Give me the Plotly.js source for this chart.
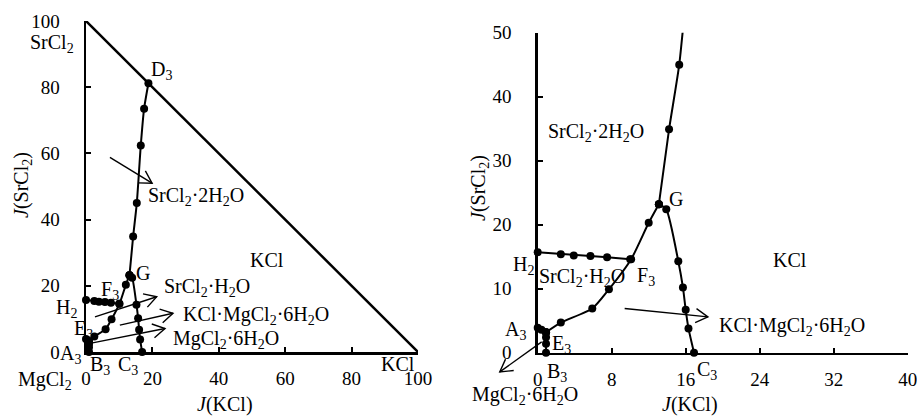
<!DOCTYPE html>
<html>
<head>
<meta charset="utf-8">
<script src="https://cdn.plot.ly/plotly-3.0.1.min.js"></script>
<style>html,body{margin:0;padding:0;background:#fff;}#chart{width:917px;height:417px;}</style>
</head>
<body>
<div id="chart"></div>
<script>
// ---- data (J(KCl), J(SrCl2)) ----
const triangleX = [0, 100];
const triangleY = [100, 0];

const lineA3E3_x = [0, 0.4, 0.9];
const lineA3E3_y = [3.9, 3.6, 3.2];

const lineE3B3_x = [0.9, 0.9, 0.9, 0.9];
const lineE3B3_y = [3.2, 2.4, 1.4, 0];

const lineE3G_x = [0.9, 2.5, 5.9, 7.7, 10.1, 12.0, 13.1];
const lineE3G_y = [3.2, 4.7, 6.9, 9.9, 14.6, 20.3, 23.2];

const lineH2F3_x = [0, 2.5, 3.9, 5.7, 7.5, 10.0];
const lineH2F3_y = [15.7, 15.4, 15.2, 15.1, 14.9, 14.6];

const lineGD3_x = [13.1, 14.2, 15.3, 16.5, 17.5, 18.8];
const lineGD3_y = [23.2, 34.9, 45.0, 62.4, 73.5, 81.2];

const lineGC3_x = [13.1, 13.9, 15.2, 15.7, 16.0, 16.3, 16.9];
const lineGC3_y = [23.2, 22.4, 14.3, 10.2, 6.7, 3.8, 0];

const leftXTicks = [0, 20, 40, 60, 80, 100];
const leftYTicks = [0, 20, 40, 60, 80, 100];
const rightXTicks = [0, 8, 16, 24, 32, 40];
const rightYTicks = [0, 10, 20, 30, 40, 50];

// ---- build ----
const FONT = 'Liberation Serif';
const W = 917, H = 417;
const dom = {
  x: [86 / W, 418 / W], y: [(H - 352) / H, (H - 21) / H],
  x2: [537.7 / W, 907.7 / W], y2: [(H - 352.7) / H, (H - 32.7) / H]
};
const rng = {x: [0, 100], y: [0, 100], x2: [0, 40], y2: [0, 50]};

const branches = [
  [lineA3E3_x, lineA3E3_y, 'linear'],
  [lineE3B3_x, lineE3B3_y, 'linear'],
  [lineE3G_x, lineE3G_y, 'spline'],
  [lineH2F3_x, lineH2F3_y, 'linear'],
  [lineGD3_x, lineGD3_y, 'spline'],
  [lineGC3_x, lineGC3_y, 'spline']
];
const traces = [];
traces.push({x: triangleX, y: triangleY, xaxis: 'x', yaxis: 'y', mode: 'lines',
  line: {color: '#000', width: 2.5}, hoverinfo: 'skip', cliponaxis: false});
function addBranch(bx, by, shape, xa, ya, ymax) {
  traces.push({x: bx, y: by, xaxis: xa, yaxis: ya, mode: 'lines',
    line: {color: '#000', width: 2, shape: shape, smoothing: 0.6}, cliponaxis: true, hoverinfo: 'skip'});
  const mx = [], my = [];
  bx.forEach((v, i) => { if (by[i] <= ymax) { mx.push(v); my.push(by[i]); } });
  traces.push({x: mx, y: my, xaxis: xa, yaxis: ya, mode: 'markers',
    marker: {color: '#000', size: 8}, cliponaxis: false, hoverinfo: 'skip'});
}
branches.forEach(b => addBranch(b[0], b[1], b[2], 'x', 'y', 100));
branches.forEach(b => addBranch(b[0], b[1], b[2], 'x2', 'y2', 50));

function axis(extra) {
  return Object.assign({
    showgrid: false, zeroline: false, showline: true, linecolor: '#000', linewidth: 2.5,
    ticks: 'inside', ticklen: 5, tickwidth: 2, tickcolor: '#000', mirror: false,
    ticklabeloverflow: 'allow',
    tickfont: {family: FONT, size: 19, color: '#000'}, fixedrange: true
  }, extra);
}

// text labels placed by pixel position of their centre
function txt(t, px, py, extra) {
  return Object.assign({text: t, x: px / W, y: 1 - py / H, xref: 'paper', yref: 'paper',
    xanchor: 'center', yanchor: 'middle', showarrow: false,
    font: {family: FONT, size: 20, color: '#000'}}, extra || {});
}

// pointer arrows (open V head), given tail and head in axis units
const shapes = [];
function toPx(v, ax, isY) {
  const d = dom[ax], r = rng[ax];
  const f = d[0] + (v - r[0]) / (r[1] - r[0]) * (d[1] - d[0]);
  return isY ? (1 - f) * H : f * W;
}
function arrow(tx, ty, hx, hy, xa, ya) {
  const p0 = [toPx(tx, xa, false), toPx(ty, ya, true)];
  const p1 = [toPx(hx, xa, false), toPx(hy, ya, true)];
  const back = Math.atan2(p0[1] - p1[1], p0[0] - p1[0]);
  const L = 14, a = 30 * Math.PI / 180;
  const w1 = [p1[0] + L * Math.cos(back + a), p1[1] + L * Math.sin(back + a)];
  const w2 = [p1[0] + L * Math.cos(back - a), p1[1] + L * Math.sin(back - a)];
  const P = p => (p[0] / W) + ',' + (1 - p[1] / H);
  shapes.push({type: 'path', xref: 'paper', yref: 'paper',
    path: 'M' + P(p0) + 'L' + P(p1), line: {color: '#000', width: 1.4}});
  shapes.push({type: 'path', xref: 'paper', yref: 'paper',
    path: 'M' + P(w1) + 'L' + P(p1) + 'L' + P(w2), line: {color: '#000', width: 1.4}});
}
arrow(7.2, 58.8, 19.9, 51.0, 'x', 'y');
arrow(2.7, 10.6, 21.3, 16.7, 'x', 'y');
arrow(10.2, 8.1, 26.2, 11.7, 'x', 'y');
arrow(1.2, 2.6, 23.8, 7.1, 'x', 'y');
arrow(0.43, 1.7, -4.1, -3.0, 'x2', 'y2');
arrow(9.4, 6.9, 18.4, 5.6, 'x2', 'y2');

const S2 = '<sub>2</sub>', S3 = '<sub>3</sub>';
const annotations = [
  // left plot labels
  txt('SrCl' + S2, 52, 43),
  txt('D' + S3, 161, 70),
  txt('SrCl' + S2 + '·2H' + S2 + 'O', 196, 197),
  txt('KCl', 267, 260),
  txt('SrCl' + S2 + '·H' + S2 + 'O', 207, 287),
  txt('KCl·MgCl' + S2 + '·6H' + S2 + 'O', 256, 315),
  txt('MgCl' + S2 + '·6H' + S2 + 'O', 226, 339),
  txt('G', 143, 273),
  txt('F' + S3, 110, 290),
  txt('H' + S2, 66, 308),
  txt('E' + S3, 83, 329),
  txt('A' + S3, 70, 354),
  txt('B' + S3, 100, 365),
  txt('C' + S3, 128, 365),
  txt('MgCl' + S2, 45, 380),
  txt('KCl', 398, 364),
  // right plot labels
  txt('SrCl' + S2 + '·2H' + S2 + 'O', 596, 132),
  txt('G', 676, 199),
  txt('KCl', 790, 260),
  txt('H' + S2, 523, 265),
  txt('SrCl' + S2 + '·H' + S2 + 'O', 582, 277),
  txt('F' + S3, 646, 276),
  txt('A' + S3, 515, 330),
  txt('E' + S3, 561, 344),
  txt('B' + S3, 557, 372),
  txt('MgCl' + S2 + '·6H' + S2 + 'O', 525, 395),
  txt('KCl·MgCl' + S2 + '·6H' + S2 + 'O', 792, 326),
  txt('C' + S3, 707, 370),
  // axis titles
  txt('<i>J</i>(KCl)', 225, 404),
  txt('<i>J</i>(KCl)', 690, 404),
  txt('<i>J</i>(SrCl' + S2 + ')', 22, 185, {textangle: -90}),
  txt('<i>J</i>(SrCl' + S2 + ')', 479, 188, {textangle: -90})
];

const layout = {
  width: W, height: H,
  margin: {l: 0, r: 0, t: 0, b: 0, autoexpand: false},
  paper_bgcolor: '#fff', plot_bgcolor: 'rgba(0,0,0,0)',
  showlegend: false,
  xaxis: axis({domain: dom.x, range: rng.x, tickvals: leftXTicks, anchor: 'y', ticklabelstandoff: 8}),
  yaxis: axis({domain: dom.y, range: rng.y, tickvals: leftYTicks, anchor: 'x', ticklabelstandoff: 20}),
  xaxis2: axis({domain: dom.x2, range: rng.x2, tickvals: rightXTicks, anchor: 'y2', ticklabelstandoff: 8}),
  yaxis2: axis({domain: dom.y2, range: rng.y2, tickvals: rightYTicks, anchor: 'x2', ticklabelstandoff: 20}),
  annotations: annotations,
  shapes: shapes
};
Plotly.newPlot('chart', traces, layout, {displayModeBar: false, staticPlot: true});
</script>
</body>
</html>
